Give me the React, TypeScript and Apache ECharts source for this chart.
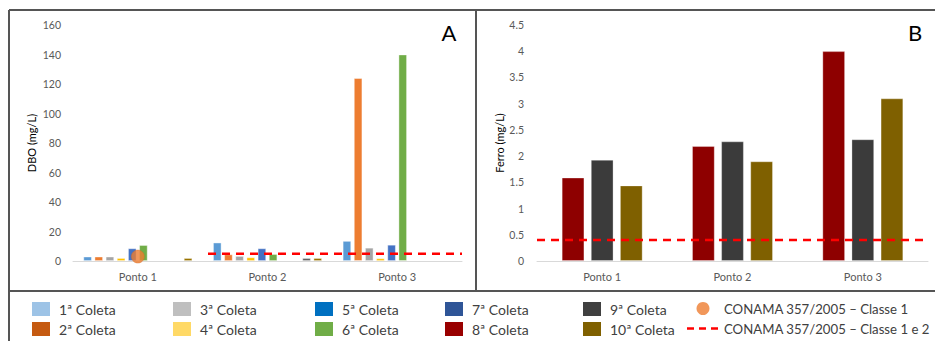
import React, { useEffect, useRef } from "react";
import * as echarts from "echarts";

// ---------- data ----------
const categories = ["Ponto 1", "Ponto 2", "Ponto 3"];
const coletaNames = [
  "1ª Coleta", "2ª Coleta", "3ª Coleta", "4ª Coleta", "5ª Coleta",
  "6ª Coleta", "7ª Coleta", "8ª Coleta", "9ª Coleta", "10ª Coleta",
];
// DBO (mg/L) per coleta, panel A
const dbo1 = [3, 12.5, 13.6];
const dbo2 = [3, 4.5, 124];
const dbo3 = [3, 3.4, 9];
const dbo4 = [2, 2.5, 1.8];
const dbo5 = [8.6, 8.6, 11];
const dbo6 = [10.8, 4.7, 140];
const dbo7 = [null, null, null];
const dbo8 = [null, null, null];
const dbo9 = [null, 2, null];
const dbo10 = [2, 2, null];
// Ferro (mg/L), panel B
const fe8 = [1.59, 2.19, 4.0];
const fe9 = [1.93, 2.28, 2.32];
const fe10 = [1.44, 1.9, 3.1];
// CONAMA limits
const conamaClasse1Name = "CONAMA 357/2005 – Classe 1";
const conamaClasse12Name = "CONAMA 357/2005 – Classe 1 e 2";
const conamaDboClasse1 = [3, null, null];
const limitDbo = 5;
const limitFe = 0.4;
const yTicksA = { min: 0, max: 160, interval: 20 };
const yTicksB = { min: 0, max: 4.5, interval: 0.5 };

// ---------- styles ----------
const barColorsA = ["#5B9BD5", "#ED7D31", "#A5A5A5", "#FFC000", "#4472C4", "#70AD47", "#255E91", "#9E480E", "#636363", "#997300"];
const barColorsB = ["#8E0000", "#3B3B3B", "#7F6000"];
const legendColors = ["#9DC3E6", "#C55A11", "#BFBFBF", "#FFD966", "#0070C0", "#70AD47", "#2F5597", "#990000", "#404040", "#7F6000"];
const lineSpanA = [0.347, 1];
const lineSpanB = [0, 1];
const FONT = "Lato, 'Liberation Sans', sans-serif";
const LIMIT_LINE = { color: "#FF0000", width: 2.5, type: [8, 6] as number[] };

export default function App() {
  const ref = useRef<HTMLDivElement>(null);
  useEffect(() => {
    if (!ref.current) return;
    const chart = echarts.init(ref.current, undefined, { renderer: "svg" });
    const dboSeries = [dbo1, dbo2, dbo3, dbo4, dbo5, dbo6, dbo7, dbo8, dbo9, dbo10];
    const feSeries = [fe8, fe9, fe10];
    const feNames = [coletaNames[7], coletaNames[8], coletaNames[9]];

    const catAxis = (gridIndex: number) => ({
      type: "category",
      gridIndex,
      data: categories,
      axisLine: { lineStyle: { color: "#D9D9D9", width: 1 } },
      axisTick: { show: false },
      axisLabel: { color: "#595959", fontSize: 11, margin: 10, fontFamily: FONT },
    });
    const hiddenAxis = (gridIndex: number) => ({
      type: "value", gridIndex, min: 0, max: 1, show: false,
    });
    const valAxis = (gridIndex: number, t: any, name: string, nameGap: number, margin: number) => ({
      type: "value",
      gridIndex,
      min: t.min, max: t.max, interval: t.interval,
      name, nameLocation: "middle", nameGap,
      nameTextStyle: { color: "#000", fontSize: 11, fontFamily: FONT },
      axisLine: { show: false }, axisTick: { show: false },
      splitLine: { show: false },
      axisLabel: { color: "#595959", fontSize: 10.5, margin, fontFamily: FONT },
    });

    const series: any[] = [];
    dboSeries.forEach((d, i) => {
      series.push({
        name: coletaNames[i], type: "bar", xAxisIndex: 0, yAxisIndex: 0,
        data: d, barGap: "32%", barCategoryGap: "16%",
        itemStyle: { color: barColorsA[i], borderColor: "rgba(255,255,255,0.5)", borderWidth: 0.8 },
      });
    });
    series.push({
      name: conamaClasse1Name, type: "scatter", xAxisIndex: 0, yAxisIndex: 0,
      data: conamaDboClasse1, symbol: "circle", symbolSize: 13, z: 5,
      itemStyle: { color: "#ED7D31", borderColor: "#D86A20", borderWidth: 0.5 },
    });
    series.push({
      name: conamaClasse12Name, type: "line", xAxisIndex: 1, yAxisIndex: 0,
      data: lineSpanA.map((x) => [x, limitDbo]), symbol: "none", z: 6,
      itemStyle: { color: LIMIT_LINE.color },
      lineStyle: { ...LIMIT_LINE },
    });
    feSeries.forEach((d, i) => {
      series.push({
        name: feNames[i], type: "bar", xAxisIndex: 2, yAxisIndex: 1,
        data: d, barGap: "29%", barCategoryGap: "38%",
        itemStyle: { color: barColorsB[i], borderColor: "rgba(255,255,255,0.4)", borderWidth: 0.8 },
      });
    });
    series.push({
      name: conamaClasse12Name, type: "line", xAxisIndex: 3, yAxisIndex: 1,
      data: lineSpanB.map((x) => [x, limitFe]), symbol: "none", z: 6,
      itemStyle: { color: LIMIT_LINE.color },
      lineStyle: { ...LIMIT_LINE },
    });

    const legendCols = [
      { left: 32, items: [0, 1] },
      { left: 173, items: [2, 3] },
      { left: 315, items: [4, 5] },
      { left: 445, items: [6, 7] },
      { left: 583, items: [8, 9] },
    ];
    const legends: any[] = legendCols.map((c) => ({
      left: c.left, top: 302, orient: "vertical", padding: 0,
      itemWidth: 18, itemHeight: 14, itemGap: 6, selectedMode: false,
      textStyle: { color: "#404040", fontSize: 14, fontFamily: FONT, padding: [0, 0, 0, 4] },
      data: c.items.map((i) => ({ name: coletaNames[i], icon: "rect", itemStyle: { color: legendColors[i], borderWidth: 0 } })),
    }));
    legends.push({
      left: 687, top: 302, orient: "vertical", padding: 0,
      itemWidth: 32, itemHeight: 13, itemGap: 7, selectedMode: false,
      textStyle: { color: "#404040", fontSize: 13.2, fontFamily: FONT },
      data: [
        { name: conamaClasse1Name, icon: "circle", itemStyle: { color: "#ED7D31", borderWidth: 0 } },
        { name: conamaClasse12Name, icon: "none" },
      ],
    });

    const frameColor = "#555555";
    chart.setOption({
      animation: false,
      backgroundColor: "#ffffff",
      textStyle: { fontFamily: FONT },
      grid: [
        { left: 73, right: 473, top: 25, bottom: 80 },
        { left: 537, right: 7, top: 25, bottom: 80 },
      ],
      xAxis: [catAxis(0), hiddenAxis(0), catAxis(1), hiddenAxis(1)],
      yAxis: [
        valAxis(0, yTicksA, "DBO (mg/L)", 36, 12),
        valAxis(1, yTicksB, "Ferro (mg/L)", 30, 13),
      ],
      legend: legends,
      series,
      graphic: [
        { type: "line", shape: { x1: 9, y1: 10, x2: 935, y2: 10 }, style: { stroke: frameColor, lineWidth: 2 } },
        { type: "line", shape: { x1: 9, y1: 10, x2: 9, y2: 341 }, style: { stroke: frameColor, lineWidth: 2 } },
        { type: "line", shape: { x1: 476, y1: 10, x2: 476, y2: 291 }, style: { stroke: frameColor, lineWidth: 2 } },
        { type: "line", shape: { x1: 9, y1: 291, x2: 935, y2: 291 }, style: { stroke: frameColor, lineWidth: 2 } },
        // dashed icon for the "Classe 1 e 2" legend entry
        { type: "line", shape: { x1: 687, y1: 328.5, x2: 718, y2: 328.5 }, style: { stroke: LIMIT_LINE.color, lineWidth: 2.5, lineDash: [7, 5] } },
        { type: "text", x: 449, y: 32, style: { text: "A", fontSize: 22, fill: "#000", align: "center", verticalAlign: "middle", fontFamily: FONT } },
        { type: "text", x: 915, y: 32, style: { text: "B", fontSize: 22, fill: "#000", align: "center", verticalAlign: "middle", fontFamily: FONT } },
      ],
    });
    return () => chart.dispose();
  }, []);
  return (
    <div
      ref={ref}
      style={{ position: "absolute", left: 0, top: 0, width: 935, height: 341, background: "#fff" }}
    />
  );
}
